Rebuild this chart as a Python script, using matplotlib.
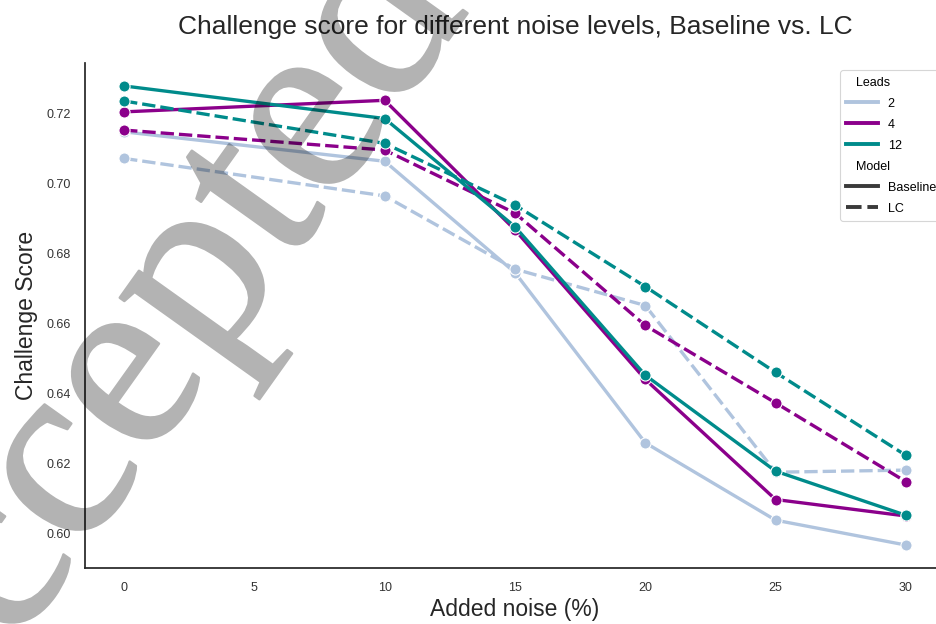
import matplotlib
matplotlib.use("Agg")
import matplotlib.pyplot as plt
import matplotlib.patheffects as pe
from matplotlib.lines import Line2D

plt.rcParams['font.family'] = ['Liberation Sans', 'DejaVu Sans']

# ---- data ----
noise = [0, 10, 15, 20, 25, 30]
leads = ['2', '4', '12']
models = ['Baseline', 'LC']
baseline_2 = [0.7147, 0.7063, 0.6745, 0.6259, 0.6038, 0.5967]
baseline_4 = [0.7204, 0.7237, 0.6867, 0.6440, 0.6097, 0.6050]
baseline_12 = [0.7278, 0.7185, 0.6876, 0.6452, 0.6178, 0.6052]
lc_2 = [0.7071, 0.6964, 0.6755, 0.6651, 0.6175, 0.6181]
lc_4 = [0.7152, 0.7095, 0.6915, 0.6594, 0.6373, 0.6148]
lc_12 = [0.7235, 0.7114, 0.6938, 0.6705, 0.6460, 0.6223]
xticks = [0, 5, 10, 15, 20, 25, 30]
yticks = [0.60, 0.62, 0.64, 0.66, 0.68, 0.70, 0.72]

colors = {'2': '#b0c4de', '4': '#8b008b', '12': '#008b8b'}
series = {
    ('2', 'Baseline'): baseline_2, ('2', 'LC'): lc_2,
    ('4', 'Baseline'): baseline_4, ('4', 'LC'): lc_4,
    ('12', 'Baseline'): baseline_12, ('12', 'LC'): lc_12,
}
dash = {'Baseline': '-', 'LC': (0, (4, 1.5))}

fig = plt.figure(figsize=(9.37, 6.24), dpi=100)
ax = fig.add_axes([85/937, 56/624, 860/937, 505/624])

for ld in leads:
    for m in models:
        ax.plot(noise, series[(ld, m)], color=colors[ld], linestyle=dash[m],
                lw=2.4, marker='o', ms=8, mec='white', mew=0.8)

ax.set_xticks(xticks)
ax.set_yticks(yticks)
ax.set_yticklabels([f"{v:.2f}" for v in yticks])
ax.tick_params(length=0, pad=10, labelsize=9, labelcolor='#333333')
for s in ['top', 'right']:
    ax.spines[s].set_visible(False)
for s in ['left', 'bottom']:
    ax.spines[s].set_color('#262626')
    ax.spines[s].set_linewidth(1.25)

ax.set_xlabel('Added noise (%)', fontsize=16.5, color='#262626', labelpad=3)
ax.set_ylabel('Challenge Score', fontsize=16.5, color='#262626', labelpad=6)
ax.set_title('Challenge score for different noise levels, Baseline vs. LC',
             fontsize=19, color='#262626', pad=21)

handles = [Line2D([], [], lw=0)]
labels = ['Leads']
for ld in leads:
    handles.append(Line2D([], [], color=colors[ld], lw=2.8))
    labels.append(ld)
handles.append(Line2D([], [], lw=0))
labels.append('Model')
for m in models:
    handles.append(Line2D([], [], color='#3a3a3a', lw=2.8, linestyle=dash[m]))
    labels.append(m)
leg = ax.legend(handles, labels, loc='upper right', fontsize=9,
                handlelength=2.5, borderpad=0.5, labelspacing=0.72,
                bbox_to_anchor=(1.004, 0.998),
                frameon=True, edgecolor='#cccccc', fancybox=True)
leg.get_frame().set_linewidth(0.8)
# left-align subtitles like seaborn does
try:
    for col in leg._legend_handle_box.get_children():
        for hp in col.get_children():
            da, ta = hp.get_children()
            t = ta.get_children()[0]
            if t.get_text() in ('Leads', 'Model'):
                da.set_width(0)
except Exception:
    pass


def fade(img, dpi):
    img = img.copy()
    img[..., 3] *= 0.3
    return img, 0, 0


wm = fig.text(0.2003, 0.350, 'Accepted', rotation=54.5, rotation_mode='anchor',
              ha='center', va='baseline', fontsize=185, family='Liberation Serif',
              color='black', zorder=10)
wm.set_path_effects([pe.withStroke(linewidth=1.8, foreground='black')])
wm.set_agg_filter(fade)

fig.savefig('out.png', dpi=100)
